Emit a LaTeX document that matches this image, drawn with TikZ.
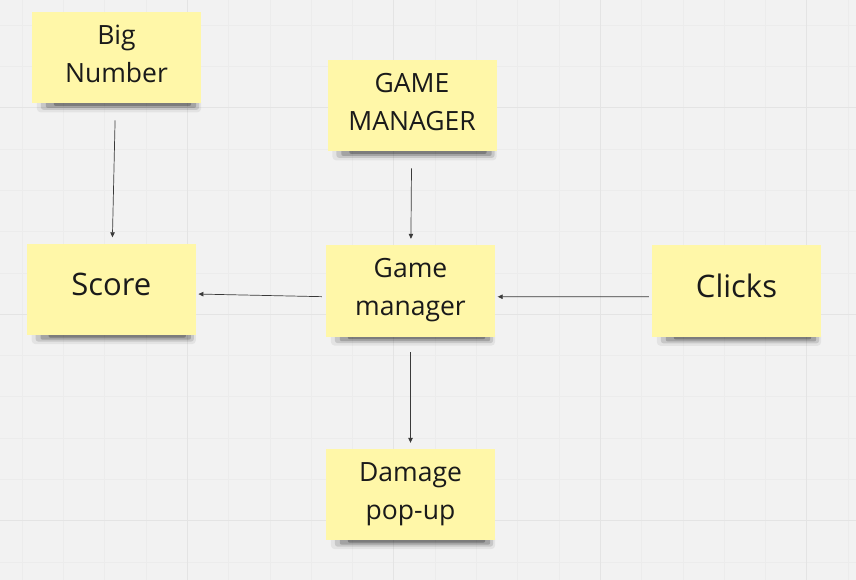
\documentclass[tikz,border=0pt]{standalone}
\usepackage{fontspec}
\setmainfont{Open Sans}
\usetikzlibrary{arrows.meta,calc}
\definecolor{bg}{HTML}{F2F2F2}
\definecolor{gridminor}{HTML}{ECECEC}
\definecolor{gridmajor}{HTML}{E4E4E4}
\definecolor{notey}{HTML}{FFF7A8}
\definecolor{ink}{HTML}{1A1A1A}
\definecolor{arrowc}{HTML}{3A3A3A}
\pgfdeclarelayer{bgl}
\pgfdeclarelayer{shl}
\pgfsetlayers{bgl,shl,main}
\newcommand\twolines[2]{\vbox{\baselineskip=38pt\halign{\hfil##\hfil\cr#1\cr#2\cr}}}
\tikzset{
  note/.style={rectangle, fill=notey, text=ink, inner sep=0pt,
    minimum width=169pt, minimum height=91.5pt},
  twoline/.style={note, font=\fontsize{26.5}{38}\selectfont,
    text height=60pt, text depth=10pt},
  oneline/.style={note, font=\fontsize{31}{38}\selectfont,
    text height=27pt, text depth=14pt},
  link/.style={draw=arrowc, line width=0.7pt,
    -{Triangle[length=5pt,width=4.5pt]}},
  minorline/.style={draw=gridminor, line width=0.8pt},
  majorline/.style={draw=gridmajor, line width=1.3pt},
}
\begin{document}
\begin{tikzpicture}[x=1pt,y=-1pt]
\useasboundingbox (0,0) rectangle (856,580);
\begin{pgfonlayer}{bgl}
  \fill[bg] (0,0) rectangle (856,580);
  \foreach \k in {0,...,20}{\draw[minorline] ({22.1+41.3*\k},0) -- ({22.1+41.3*\k},580);}
  \foreach \k in {0,...,13}{\draw[minorline] (0,{25.1+41.3*\k}) -- (856,{25.1+41.3*\k});}
  \foreach \xx in {187.3,393.8,600.3,806.8}{\draw[majorline] (\xx,0) -- (\xx,580);}
  \foreach \yy in {107.7,314.2,520.7}{\draw[majorline] (0,\yy) -- (856,\yy);}
\end{pgfonlayer}

\node[twoline] (big) at (116.5,57.5) {\twolines{Big}{Number}};
\node[twoline] (gm) at (412,105.5) {\twolines{GAME}{MANAGER}};
\node[oneline] (score) at (111.25,289.25) {Score};
\node[twoline] (gmm) at (410.5,290.75) {\twolines{Game}{manager}};
\node[oneline] (clicks) at (736.5,291) {Clicks};
\node[twoline] (dmg) at (410.5,494.25) {\twolines{Damage}{pop-up}};

\begin{pgfonlayer}{shl}
\foreach \n in {big,gm,score,gmm,clicks,dmg}{
  \fill[black,opacity=.06,rounded corners=4pt] ($(\n.south west)+(5,-5)$) rectangle ($(\n.south east)+(0,9)$);
  \fill[black,opacity=.12,rounded corners=3pt] ($(\n.south west)+(9,-5)$) rectangle ($(\n.south east)+(-2,6.5)$);
  \fill[black,opacity=.18,rounded corners=2pt] ($(\n.south west)+(14,-5)$) rectangle ($(\n.south east)+(-5,4.5)$);
  \fill[black,opacity=.24,rounded corners=2pt] ($(\n.south west)+(22,-5)$) rectangle ($(\n.south east)+(-10,2.5)$);
}
\end{pgfonlayer}

\draw[link, shorten <=17pt, shorten >=6pt] (big) -- (score);
\draw[link, shorten <=17pt, shorten >=6pt] (gm) -- (gmm);
\draw[link, shorten <=4pt, shorten >=2.5pt] ([yshift=-6pt]gmm.west) -- ([yshift=-4.75pt]score.east);
\draw[link, shorten <=3pt, shorten >=2.5pt] ([yshift=-5.7pt]clicks.west) -- ([yshift=-6pt]gmm.east);
\draw[link, shorten <=15.5pt, shorten >=5.5pt] (gmm) -- (dmg);
\end{tikzpicture}
\end{document}
